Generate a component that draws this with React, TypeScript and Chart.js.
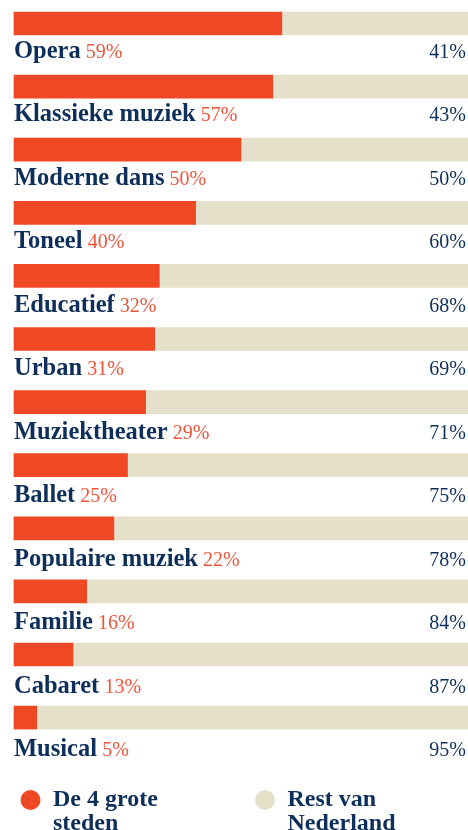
import React, { useEffect, useRef } from "react";
import { Chart, registerables } from "chart.js";

Chart.register(...registerables);

const categories = [
  "Opera",
  "Klassieke muziek",
  "Moderne dans",
  "Toneel",
  "Educatief",
  "Urban",
  "Muziektheater",
  "Ballet",
  "Populaire muziek",
  "Familie",
  "Cabaret",
  "Musical",
];
const groteSteden = [59, 57, 50, 40, 32, 31, 29, 25, 22, 16, 13, 5];
const restVanNederland = [41, 43, 50, 60, 68, 69, 71, 75, 78, 84, 87, 95];
const legendLabels = [
  ["De 4 grote", "steden"],
  ["Rest van", "Nederland"],
];

const ORANGE = "#EE4824";
const ORANGE_TEXT = "#F0553A";
const BEIGE = "#E5E0CA";
const NAVY = "#0D2F5A";
const SERIF = '"Liberation Serif", "Times New Roman", serif';

export default function App() {
  const ref = useRef<HTMLCanvasElement | null>(null);

  useEffect(() => {
    if (!ref.current) return;
    const labelPlugin = {
      id: "labels",
      afterDatasetsDraw(chart: any) {
        const ctx = chart.ctx;
        const yScale = chart.scales.y;
        const area = chart.chartArea;
        ctx.save();
        ctx.textBaseline = "alphabetic";
        categories.forEach((cat, i) => {
          const y = yScale.getPixelForValue(i) + 34.5 + i * 0.35;
          ctx.font = `bold 24.5px ${SERIF}`;
          ctx.fillStyle = NAVY;
          ctx.textAlign = "left";
          ctx.fillText(cat, area.left, y);
          const w = ctx.measureText(cat + " ").width;
          ctx.font = `20px ${SERIF}`;
          ctx.fillStyle = ORANGE_TEXT;
          ctx.fillText(groteSteden[i] + "%", area.left + w - 1, y);
          ctx.fillStyle = NAVY;
          ctx.textAlign = "right";
          ctx.fillText(restVanNederland[i] + "%", 466, y);
        });
        // legend
        const colors = [ORANGE, BEIGE];
        const xs = [30.5, 265];
        legendLabels.forEach((lines, k) => {
          ctx.beginPath();
          ctx.fillStyle = colors[k];
          ctx.arc(xs[k], 800, 10, 0, Math.PI * 2);
          ctx.fill();
          ctx.font = `bold 24px ${SERIF}`;
          ctx.fillStyle = NAVY;
          ctx.textAlign = "left";
          lines.forEach((line, j) => {
            ctx.fillText(line, xs[k] + 22.5, 806 + j * 24);
          });
        });
        ctx.restore();
      },
    };

    const chart = new Chart(ref.current, {
      type: "bar",
      data: {
        labels: categories,
        datasets: [
          {
            label: legendLabels[0].join(" "),
            data: groteSteden,
            backgroundColor: ORANGE,
            barThickness: 23,
            borderWidth: 0,
            clip: false as any,
          },
          {
            label: legendLabels[1].join(" "),
            data: restVanNederland,
            backgroundColor: BEIGE,
            barThickness: 23,
            borderWidth: 0,
            clip: false as any,
          },
        ],
      },
      options: {
        indexAxis: "y",
        responsive: false,
        animation: false,
        layout: { padding: { left: 14, right: 0, top: 23.5, bottom: 112.4 } },
        plugins: { legend: { display: false }, tooltip: { enabled: false } },
        scales: {
          x: { stacked: true, min: 0, max: 100, display: false },
          y: { stacked: true, display: false, offset: false },
        },
      },
      plugins: [labelPlugin],
    });
    return () => chart.destroy();
  }, []);

  return (
    <div style={{ position: "absolute", top: 0, left: 0, width: 468, height: 830, background: "#fff" }}>
      <canvas ref={ref} width={468} height={830} style={{ display: "block" }} />
    </div>
  );
}
